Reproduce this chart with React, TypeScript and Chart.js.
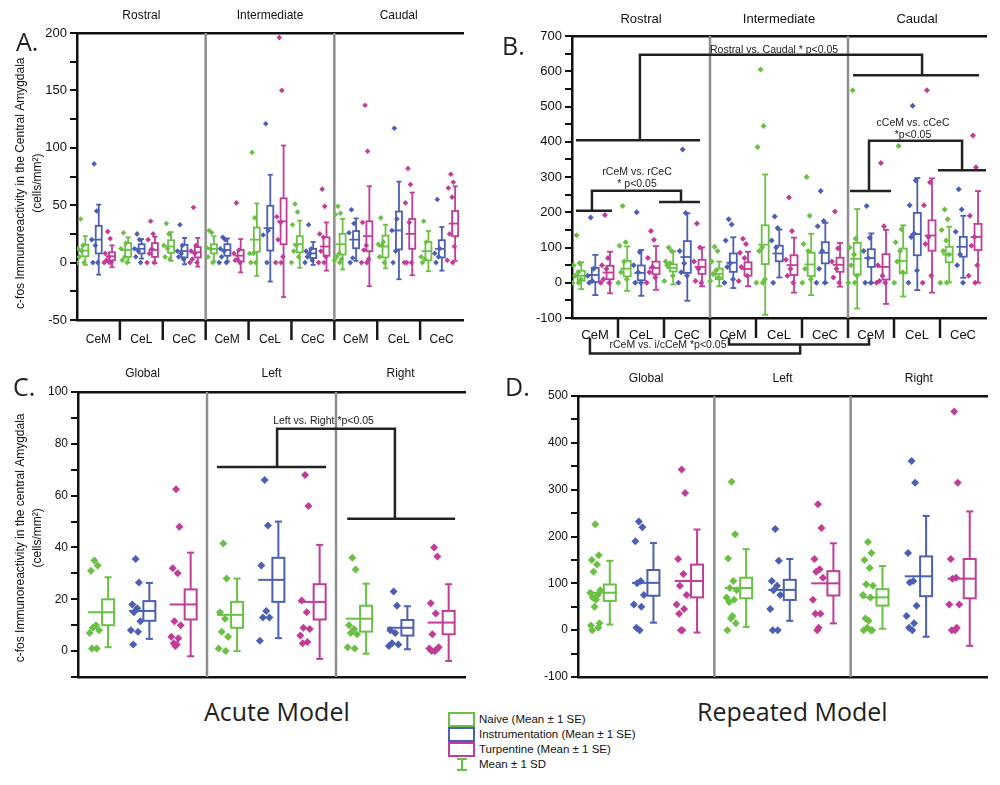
import React, { useEffect, useRef } from 'react';
import { Chart, registerables } from 'chart.js';

Chart.register(...registerables);

const FONT = '"Liberation Sans", Arial, Helvetica, sans-serif';
const TITLE_FONT = '"Open Sans", "Noto Sans", sans-serif';
const COLORS = ['#69c043', '#4b5fb4', '#c03c98'];

// ---------------- categories ----------------
const treatments = ['Naive', 'Instrumentation', 'Turpentine'];
const regionsAB = ['Rostral', 'Intermediate', 'Caudal'];
const nucleiAB = ['CeM', 'CeL', 'CeC', 'CeM', 'CeL', 'CeC', 'CeM', 'CeL', 'CeC'];
const sidesCD = ['Global', 'Left', 'Right'];

// ---------------- tick labels ----------------
const yLabelsA = [-50, 0, 50, 100, 150, 200];
const yLabelsB = [-100, 0, 100, 200, 300, 400, 500, 600, 700];
const yLabelsC = [0, 20, 40, 60, 80, 100];
const yLabelsD = [-100, 0, 100, 200, 300, 400, 500];

// ---------------- Panel A (acute, rostro-caudal) ----------------
const aNaivePoints = [
  [38, 15, 12, 10, 5, 0, 0],
  [26, 17, 12, 5, 2, 0],
  [34, 25, 15, 12, 5, 3],
  [28, 26, 13, 12, 5, 0],
  [96, 39, 8, 8, 0, 0],
  [51, 44, 33, 15, 10, 5, 0],
  [49, 43, 42, 8, 5, 3, 2, 0],
  [39, 18, 16, 15, 5, 0],
  [36, 18, 5, 3, 0],
];
const aInstrPoints = [
  [86, 45, 20, 15, 0, 0],
  [25, 20, 12, 10, 5, 0],
  [33, 15, 10, 8, 5, 3],
  [22, 20, 12, 10, 5, 0, 0],
  [121, 28, 24, 0],
  [33, 12, 10, 8, 5, 2, 0],
  [46, 34, 26, 4, 0],
  [117, 38, 28, 10, 0],
  [55, 12, 8, 5, 0],
];
const aTurpPoints = [
  [27, 21, 8, 5, 2, 0, 0, 0],
  [36, 25, 20, 12, 8, 0, 0],
  [48, 15, 10, 8, 3, 0, 0],
  [52, 11, 8, 3, 2, 0],
  [196, 150, 40, 35, 20, 5, 0, 0],
  [64, 49, 25, 22, 10, 5, 0, 0],
  [137, 97, 35, 15, 11, 3, 0, 0],
  [82, 68, 52, 35, 0, 0, 0],
  [77, 70, 65, 57, 25, 14, 2, 0],
];
const aNaiveMean = [10.5, 11, 14, 12, 20, 16, 16, 14, 10];
const aNaiveSE = [5, 6, 5.5, 4, 10.5, 7, 9, 9.5, 8];
const aNaiveSD = [12.5, 11, 12.5, 11, 31.5, 20.5, 22, 19, 17.5];
const aInstrMean = [20, 12, 10, 11, 30, 8, 20, 28, 12];
const aInstrSE = [12, 4, 5.5, 5, 19.5, 4, 7.5, 16.5, 7.5];
const aInstrSD = [30.5, 8.5, 11.5, 10, 46.5, 10, 18.5, 42.5, 19];
const aTurpMean = [5.5, 11, 9, 6, 36, 14, 23, 25, 34];
const aTurpSE = [3.5, 6, 4.5, 5, 20, 8, 13, 13, 11];
const aTurpSD = [9.5, 11.5, 12.5, 14.5, 66, 21, 43.5, 36, 32.5];

// ---------------- Panel B (repeated, rostro-caudal) ----------------
const bNaivePoints = [
  [135, 55, 50, 30, 20, 10, 0, 0],
  [218, 115, 105, 60, 30, 10, 0],
  [100, 90, 60, 55, 50, 20, 5],
  [102, 90, 60, 35, 25, 15, 5],
  [605, 445, 385, 100, 90, 10, 0, 0],
  [300, 190, 110, 90, 40, 10, 0],
  [546, 125, 100, 80, 50, 20, 0, 0],
  [388, 152, 115, 90, 60, 30, 0],
  [208, 180, 150, 120, 90, 80, 0, 0],
];
const bInstrPoints = [
  [185, 40, 20, 5, 0],
  [200, 87, 50, 30, 0, 0],
  [378, 198, 90, 55, 30, 20, 0],
  [180, 165, 120, 55, 45, 10, 0],
  [188, 155, 120, 100, 0],
  [260, 175, 160, 90, 40, 0, 0],
  [218, 128, 90, 70, 0, 0],
  [502, 290, 220, 140, 130, 35, 0],
  [265, 208, 145, 80, 50, 0],
];
const bTurpPoints = [
  [192, 70, 50, 40, 10, 0, 0],
  [147, 122, 70, 45, 30, 15, 0],
  [168, 100, 60, 40, 5, 0],
  [125, 110, 85, 70, 45, 20, 5],
  [242, 147, 65, 40, 20, 0],
  [202, 98, 60, 40, 15, 0],
  [340, 160, 50, 20, 5, 0, 0],
  [546, 285, 220, 130, 110, 20, 0],
  [418, 328, 190, 130, 105, 50, 20, 0],
];
const bNaiveMean = [20, 40, 42, 25, 108, 52, 68, 62, 80];
const bNaiveSE = [14, 22, 10, 15, 55, 33, 45, 35, 22];
const bNaiveSD = [38, 63, 47, 35, 199, 87, 141, 101, 79];
const bInstrMean = [22, 28, 73, 57, 83, 85, 70, 138, 102];
const bInstrSE = [20, 21, 45, 26, 22, 30, 25, 60, 28];
const bInstrSD = [57, 65, 124, 72, 68, 85, 70, 159, 88];
const bTurpMean = [29, 42, 45, 39, 50, 51, 45, 134, 130];
const bTurpSE = [19, 18, 20, 19, 28, 20, 36, 43, 37];
const bTurpSD = [59, 62, 55, 49, 78, 62, 105, 162, 130];

// ---------------- Panel C (acute, laterality) ----------------
const cNaivePoints = [
  [35, 33, 31, 10, 9, 8, 7, 1, 1],
  [41.5, 28, 15, 12.5, 7.5, 5.5, 1, 0],
  [36, 31.5, 10, 8.5, 7, 6.5, 1.5, 1],
];
const cInstrPoints = [
  [35.5, 26.5, 18, 16.5, 15, 11.5, 8, 7.5, 2.5],
  [66, 48.5, 33, 15.5, 13, 13, 4],
  [23, 17.5, 8, 7, 3, 2.5, 2],
];
const cTurpPoints = [
  [62.5, 48, 32, 30, 11.5, 10, 5.5, 5, 3, 2.5, 2],
  [68, 56, 19.5, 15, 9, 8.5, 6, 3.5, 3],
  [40, 36.5, 18.5, 14.5, 6.5, 1.5, 1, 0.5, 0, 0],
];
const cNaiveMean = [15, 14, 12.5];
const cNaiveSE = [5, 5, 5];
const cNaiveSD = [13.5, 14, 13.5];
const cInstrMean = [15.5, 27.5, 9];
const cInstrSE = [3.8, 8.5, 3];
const cInstrSD = [10.8, 22.5, 8.3];
const cTurpMean = [18, 19, 11];
const cTurpSE = [5.8, 6.8, 4.5];
const cTurpSD = [20, 22, 14.8];

// ---------------- Panel D (repeated, laterality) ----------------
const dNaivePoints = [
  [226, 160, 150, 140, 125, 85, 80, 75, 70, 65, 50, 15, 10, 5, 0],
  [317, 205, 153, 105, 90, 85, 70, 65, 60, 30, 25, 15, 0],
  [188, 165, 150, 133, 98, 95, 75, 70, 25, 20, 5, 0, 0, 0],
];
const dInstrPoints = [
  [232, 220, 190, 105, 100, 75, 55, 50, 5, 0],
  [216, 148, 105, 95, 85, 75, 45, 0, 0],
  [361, 315, 165, 105, 102, 52, 30, 15, 5, 0],
];
const dTurpPoints = [
  [343, 293, 152, 120, 95, 75, 55, 45, 35, 0, 0],
  [269, 218, 152, 130, 125, 112, 65, 35, 35, 5, 0],
  [467, 315, 152, 112, 110, 55, 55, 5, 0, 0],
];
const dNaiveMean = [80, 90, 70];
const dNaiveSE = [17.5, 22, 17.5];
const dNaiveSD = [68, 83, 67];
const dInstrMean = [101, 86, 115];
const dInstrSE = [27.5, 21.5, 42.5];
const dInstrSD = [85, 66, 129];
const dTurpMean = [105, 100, 110];
const dTurpSE = [35, 26, 42];
const dTurpSD = [110, 85.5, 143.5];

// ---------------- significance annotations (data coordinates) ----------------
const bBrackets: number[][][] = [
  [[0.26, 404], [8.35, 404]],
  [[4.43, 404], [4.43, 647], [22.83, 647], [22.83, 589]],
  [[18.33, 589], [26.55, 589]],
  [[0.26, 204], [2.61, 204]],
  [[1.3, 204], [1.3, 261], [7.11, 261], [7.11, 229]],
  [[5.68, 229], [8.35, 229]],
  [[18.13, 260], [20.81, 260]],
  [[19.37, 260], [19.37, 403], [25.44, 403], [25.44, 319]],
  [[23.87, 319], [27, 319]],
  [[1.17, -156], [1.17, -201], [14.88, -201], [14.88, -175]],
  [[10.24, -156], [10.24, -175], [19.37, -175], [19.37, -156]],
];
const bNotes = [
  { text: 'Rostral vs. Caudal * p<0.05', x: 13.18, y: 660 },
  { text: 'rCeM vs. rCeC', x: 4.24, y: 314 },
  { text: '* p<0.05', x: 4.24, y: 280 },
  { text: 'cCeM vs. cCeC', x: 22.24, y: 453 },
  { text: '*p<0.05', x: 22.24, y: 419 },
  { text: 'rCeM vs. i/cCeM *p<0.05', x: 6.26, y: -178 },
];
const cBrackets: number[][][] = [
  [[3.23, 71.1], [5.77, 71.1]],
  [[4.63, 71.1], [4.63, 85.8], [7.37, 85.8], [7.37, 51.1]],
  [[6.26, 51.1], [8.77, 51.1]],
];
const cNotes = [{ text: 'Left vs. Right *p<0.05', x: 5.71, y: 88.8 }];

// ---------------- layout (positions / sizes) ----------------
type Layout = {
  left: number; top: number; w: number; h: number;
  yWidth: number; topH: number; bottomH: number; padRight: number;
  tickFont: number; catFont: number; topFont: number; topPad: number; botPad: number;
  ptsOff: number[]; boxOff: number[]; boxHW: number; capHW: number; lw: number;
  radius: number; spread: number; meanExt: number; subSepLen: number; titleShift: number;
};

const layoutA: Layout = {
  left: 0, top: 0, w: 480, h: 350, yWidth: 77, topH: 33, bottomH: 30, padRight: 17,
  tickFont: 13, catFont: 12, topFont: 12, topPad: 2, botPad: 4,
  ptsOff: [0.25, 1.2, 2.15], boxOff: [0.58, 1.52, 2.45], boxHW: 3, capHW: 2.5, lw: 1.8,
  radius: 2.8, spread: 0.25, meanExt: 0.15, subSepLen: 20, titleShift: 4,
};
const layoutB: Layout = {
  left: 500, top: 0, w: 500, h: 365, yWidth: 72, topH: 36, bottomH: 47, padRight: 14,
  tickFont: 13, catFont: 13, topFont: 13, topPad: 1, botPad: 2,
  ptsOff: [0.3, 1.22, 2.15], boxOff: [0.6, 1.52, 2.48], boxHW: 3.5, capHW: 3, lw: 1.8,
  radius: 3, spread: 0.28, meanExt: 0.15, subSepLen: 20, titleShift: 0,
};
const layoutC: Layout = {
  left: 0, top: 360, w: 480, h: 330, yWidth: 78, topH: 32, bottomH: 13, padRight: 15,
  tickFont: 12, catFont: 12, topFont: 12, topPad: 3, botPad: 2,
  ptsOff: [0.38, 1.34, 2.28], boxOff: [0.7, 1.66, 2.62], boxHW: 6, capHW: 3.5, lw: 2,
  radius: 4, spread: 0.11, meanExt: 0.15, subSepLen: 0, titleShift: 2,
};
const layoutD: Layout = {
  left: 500, top: 360, w: 500, h: 330, yWidth: 78, topH: 36, bottomH: 13, padRight: 13,
  tickFont: 12, catFont: 12, topFont: 12, topPad: 2, botPad: 2,
  ptsOff: [0.38, 1.34, 2.28], boxOff: [0.7, 1.66, 2.62], boxHW: 6, capHW: 3.5, lw: 2,
  radius: 4, spread: 0.11, meanExt: 0.15, subSepLen: 0, titleShift: 0,
};

type PanelDef = {
  points: number[][][]; means: number[][]; ses: number[][]; sds: number[][];
  yMin: number; yMax: number; yMinor: number; yLabels: number[];
  topLabels: string[]; bottomLabels: string[] | null; yTitle: string[] | null;
  brackets: number[][][]; notes: { text: string; x: number; y: number }[];
  layout: Layout;
};

const panelA: PanelDef = {
  points: [aNaivePoints, aInstrPoints, aTurpPoints],
  means: [aNaiveMean, aInstrMean, aTurpMean], ses: [aNaiveSE, aInstrSE, aTurpSE], sds: [aNaiveSD, aInstrSD, aTurpSD],
  yMin: -50, yMax: 200, yMinor: 25, yLabels: yLabelsA,
  topLabels: regionsAB, bottomLabels: nucleiAB,
  yTitle: ['c-fos Immunoreactivity in the Central Amygdala', '(cells/mm²)'],
  brackets: [], notes: [], layout: layoutA,
};
const panelB: PanelDef = {
  points: [bNaivePoints, bInstrPoints, bTurpPoints],
  means: [bNaiveMean, bInstrMean, bTurpMean], ses: [bNaiveSE, bInstrSE, bTurpSE], sds: [bNaiveSD, bInstrSD, bTurpSD],
  yMin: -100, yMax: 700, yMinor: 50, yLabels: yLabelsB,
  topLabels: regionsAB, bottomLabels: nucleiAB, yTitle: null,
  brackets: bBrackets, notes: bNotes, layout: layoutB,
};
const panelC: PanelDef = {
  points: [cNaivePoints, cInstrPoints, cTurpPoints],
  means: [cNaiveMean, cInstrMean, cTurpMean], ses: [cNaiveSE, cInstrSE, cTurpSE], sds: [cNaiveSD, cInstrSD, cTurpSD],
  yMin: -10, yMax: 100, yMinor: 10, yLabels: yLabelsC,
  topLabels: sidesCD, bottomLabels: null,
  yTitle: ['c-fos Immunoreactivity in the central Amygdala', '(cells/mm²)'],
  brackets: cBrackets, notes: cNotes, layout: layoutC,
};
const panelD: PanelDef = {
  points: [dNaivePoints, dInstrPoints, dTurpPoints],
  means: [dNaiveMean, dInstrMean, dTurpMean], ses: [dNaiveSE, dInstrSE, dTurpSE], sds: [dNaiveSD, dInstrSD, dTurpSD],
  yMin: -100, yMax: 500, yMinor: 50, yLabels: yLabelsD,
  topLabels: sidesCD, bottomLabels: null, yTitle: null,
  brackets: [], notes: [], layout: layoutD,
};

const JITTER = [0, 0.7, -0.7, 0.35, -0.35, 1, -1, 0.5, -0.5, 0.15, -0.15, 0.85, -0.85, 0.6, -0.6];

function buildConfig(p: PanelDef): any {
  const L = p.layout;
  const nGroups = p.means[0].length;
  const xMax = nGroups * 3;
  const regionStep = xMax / 3;
  const regionBounds = [regionStep, regionStep * 2];
  const topTicks = [regionStep / 2, regionStep * 1.5, regionStep * 2.5];
  const bottomTicks = Array.from({ length: nGroups }, (_, g) => g * 3 + 1.5);
  const subBounds = Array.from({ length: nGroups - 1 }, (_, g) => (g + 1) * 3);
  // trailing no-break spaces move the centred, rotated title slightly downwards
  const pad = '\u00a0'.repeat(L.titleShift);
  const titleText = p.yTitle ? p.yTitle.map((s) => s + pad) : [];

  // ptsOff / boxOff already include the treatment position within a group of three
  const datasets = treatments.map((name, t) => ({
    label: name,
    data: p.points[t].flatMap((vals, g) =>
      vals.map((v, i) => ({ x: g * 3 + L.ptsOff[t] + JITTER[i % JITTER.length] * L.spread, y: v }))
    ),
    pointStyle: 'rectRot',
    pointRadius: L.radius,
    pointHoverRadius: L.radius,
    pointBackgroundColor: COLORS[t],
    pointBorderWidth: 0,
    showLine: false,
  }));

  const line = (ctx: CanvasRenderingContext2D, x1: number, y1: number, x2: number, y2: number) => {
    ctx.beginPath();
    ctx.moveTo(x1, y1);
    ctx.lineTo(x2, y2);
    ctx.stroke();
  };

  const marks = {
    id: 'panelMarks',
    beforeDatasetsDraw(chart: any) {
      const ctx: CanvasRenderingContext2D = chart.ctx;
      const xs = chart.scales.x;
      const ys = chart.scales.y;
      const a = chart.chartArea;
      ctx.save();
      ctx.strokeStyle = '#8e8e8e';
      ctx.lineWidth = 2.5;
      regionBounds.forEach((b) => {
        const px = xs.getPixelForValue(b);
        line(ctx, px, a.top, px, a.bottom);
      });
      ctx.lineWidth = L.lw;
      ctx.lineCap = 'butt';
      for (let t = 0; t < 3; t++) {
        ctx.strokeStyle = COLORS[t];
        for (let g = 0; g < nGroups; g++) {
          const m = p.means[t][g];
          const se = p.ses[t][g];
          const sd = p.sds[t][g];
          const base = g * 3;
          const bx = xs.getPixelForValue(base + L.boxOff[t]);
          const yM = ys.getPixelForValue(m);
          const yT = ys.getPixelForValue(m + se);
          const yB = ys.getPixelForValue(m - se);
          const ySdT = ys.getPixelForValue(m + sd);
          const ySdB = ys.getPixelForValue(m - sd);
          line(ctx, bx, ySdT, bx, yT);
          line(ctx, bx, yB, bx, ySdB);
          line(ctx, bx - L.capHW, ySdT, bx + L.capHW, ySdT);
          line(ctx, bx - L.capHW, ySdB, bx + L.capHW, ySdB);
          ctx.strokeRect(bx - L.boxHW, yT, L.boxHW * 2, yB - yT);
          const mx = xs.getPixelForValue(base + L.ptsOff[t] - L.meanExt);
          line(ctx, mx, yM, bx + L.boxHW, yM);
        }
      }
      ctx.restore();
    },
    afterDraw(chart: any) {
      const ctx: CanvasRenderingContext2D = chart.ctx;
      const xs = chart.scales.x;
      const ys = chart.scales.y;
      const a = chart.chartArea;
      ctx.save();
      ctx.strokeStyle = '#1a1a1a';
      ctx.lineWidth = 2.5;
      if (L.subSepLen > 0) {
        subBounds.forEach((b) => {
          const px = xs.getPixelForValue(b);
          line(ctx, px, a.bottom, px, a.bottom + L.subSepLen);
        });
      }
      ctx.strokeStyle = '#222';
      ctx.lineJoin = 'miter';
      p.brackets.forEach((pts) => {
        ctx.beginPath();
        pts.forEach(([u, v], i) => {
          const px = xs.getPixelForValue(u);
          const py = ys.getPixelForValue(v);
          if (i === 0) ctx.moveTo(px, py);
          else ctx.lineTo(px, py);
        });
        ctx.stroke();
      });
      ctx.fillStyle = '#222';
      ctx.font = `10.5px ${FONT}`;
      ctx.textAlign = 'center';
      ctx.textBaseline = 'middle';
      p.notes.forEach((n) => {
        ctx.fillText(n.text, xs.getPixelForValue(n.x), ys.getPixelForValue(n.y));
      });
      ctx.restore();
    },
  };

  return {
    type: 'scatter',
    data: { datasets },
    options: {
      responsive: false,
      animation: false,
      events: [],
      layout: { padding: { left: 0, top: 0, bottom: 0, right: L.padRight } },
      plugins: { legend: { display: false }, tooltip: { enabled: false }, title: { display: false } },
      scales: {
        x: {
          type: 'linear',
          position: 'bottom',
          min: 0,
          max: xMax,
          afterBuildTicks: (s: any) => {
            s.ticks = bottomTicks.map((v) => ({ value: v }));
          },
          ticks: {
            display: !!p.bottomLabels,
            autoSkip: false,
            maxRotation: 0,
            minRotation: 0,
            padding: L.botPad,
            color: '#111',
            font: { family: FONT, size: L.catFont },
            callback: (_v: any, i: number) => (p.bottomLabels ? p.bottomLabels[i] : ''),
          },
          grid: { display: false },
          border: { display: true, color: '#111', width: 2.5 },
          afterFit: (s: any) => {
            s.height = L.bottomH;
          },
        },
        x2: {
          type: 'linear',
          position: 'top',
          min: 0,
          max: xMax,
          afterBuildTicks: (s: any) => {
            s.ticks = topTicks.map((v) => ({ value: v }));
          },
          ticks: {
            autoSkip: false,
            maxRotation: 0,
            minRotation: 0,
            padding: L.topPad,
            color: '#111',
            font: { family: FONT, size: L.topFont },
            callback: (_v: any, i: number) => p.topLabels[i],
          },
          grid: { display: false },
          border: { display: true, color: '#111', width: 2.5 },
          afterFit: (s: any) => {
            s.height = L.topH;
          },
        },
        y: {
          type: 'linear',
          min: p.yMin,
          max: p.yMax,
          ticks: {
            stepSize: p.yMinor,
            autoSkip: false,
            padding: 3,
            color: '#111',
            font: { family: FONT, size: L.tickFont },
            callback: (v: any) => (p.yLabels.includes(Math.round(Number(v))) ? String(Math.round(Number(v))) : ''),
          },
          grid: { display: true, drawOnChartArea: false, drawTicks: true, tickLength: 7, color: '#111', lineWidth: 2 },
          border: { display: true, color: '#111', width: 2.5 },
          title: p.yTitle
            ? {
                display: true,
                text: titleText,
                color: '#111',
                font: { family: FONT, size: 12, lineHeight: 1.4 },
                padding: { top: 12, bottom: 0 },
              }
            : { display: false },
          afterFit: (s: any) => {
            s.width = L.yWidth;
          },
        },
      },
    },
    plugins: [marks],
  };
}

function PanelChart({ panel }: { panel: PanelDef }) {
  const ref = useRef<HTMLCanvasElement>(null);
  useEffect(() => {
    const chart = new Chart(ref.current as HTMLCanvasElement, buildConfig(panel));
    return () => chart.destroy();
  }, [panel]);
  const L = panel.layout;
  return (
    <canvas
      ref={ref}
      width={L.w}
      height={L.h}
      style={{ position: 'absolute', left: L.left, top: L.top, width: L.w, height: L.h }}
    />
  );
}

const letterStyle = (left: number, top: number): React.CSSProperties => ({
  position: 'absolute',
  left,
  top,
  fontFamily: TITLE_FONT,
  fontSize: 25,
  lineHeight: 1,
  color: '#231f20',
  whiteSpace: 'nowrap',
});

export default function App() {
  return (
    <div style={{ position: 'absolute', left: 0, top: 0, width: 1000, height: 785, background: '#fff', overflow: 'hidden' }}>
      <PanelChart panel={panelA} />
      <PanelChart panel={panelB} />
      <PanelChart panel={panelC} />
      <PanelChart panel={panelD} />

      <div style={letterStyle(16, 29)}>A.</div>
      <div style={letterStyle(502, 33)}>B.</div>
      <div style={letterStyle(13, 374)}>C.</div>
      <div style={letterStyle(505, 374)}>D.</div>

      <div style={letterStyle(204, 699)}>Acute Model</div>
      <div style={letterStyle(697, 699)}>Repeated Model</div>

      <div style={{ position: 'absolute', left: 448, top: 712, width: 220, height: 62 }}>
        {treatments.map((t, i) => (
          <div
            key={'box' + t}
            style={{
              position: 'absolute',
              left: 0,
              top: i * 15,
              width: 27,
              height: 15,
              boxSizing: 'border-box',
              border: `2px solid ${COLORS[i]}`,
              background: '#fff',
            }}
          />
        ))}
        {treatments.map((t, i) => (
          <div
            key={'txt' + t}
            style={{
              position: 'absolute',
              left: 31,
              top: i * 15,
              height: 15,
              lineHeight: '15px',
              fontFamily: FONT,
              fontSize: 11.5,
              color: '#111',
              whiteSpace: 'nowrap',
            }}
          >
            {`${t} (Mean ± 1 SE)`}
          </div>
        ))}
        <div style={{ position: 'absolute', left: 9, top: 46, width: 10, height: 2, background: COLORS[0] }} />
        <div style={{ position: 'absolute', left: 13, top: 46, width: 2, height: 13, background: COLORS[0] }} />
        <div style={{ position: 'absolute', left: 9, top: 57, width: 10, height: 2, background: COLORS[0] }} />
        <div
          style={{
            position: 'absolute',
            left: 31,
            top: 45,
            height: 15,
            lineHeight: '15px',
            fontFamily: FONT,
            fontSize: 11.5,
            color: '#111',
            whiteSpace: 'nowrap',
          }}
        >
          Mean ± 1 SD
        </div>
      </div>
    </div>
  );
}
